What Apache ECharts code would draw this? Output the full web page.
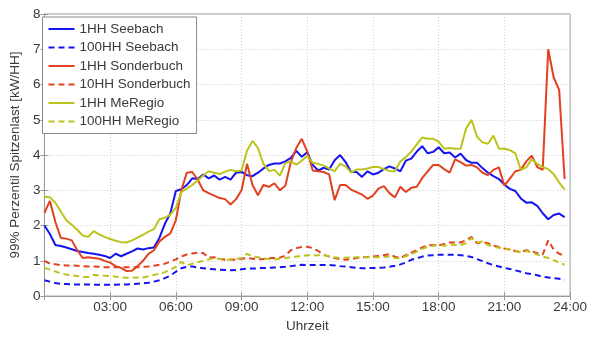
<!DOCTYPE html>
<html>
<head>
<meta charset="utf-8">
<script src="https://cdn.jsdelivr.net/npm/echarts@6/dist/echarts.min.js"></script>
<style>
  html, body { margin: 0; padding: 0; background: #fff; }
  #chart { width: 590px; height: 338px; }
</style>
</head>
<body>
<div id="chart"></div>
<script>
// 99th-percentile peak load per household over the day, 15-minute steps (00:00 .. 23:45)
const STEP_HOURS = 0.25;

const seebach1HH = [
  2.0, 1.76, 1.45, 1.42, 1.38, 1.33, 1.28, 1.25, 1.22, 1.2, 1.17, 1.14,
  1.08, 1.2, 1.13, 1.2, 1.27, 1.35, 1.32, 1.36, 1.38, 1.65, 2.05, 2.35,
  2.98, 3.03, 3.15, 3.34, 3.32, 3.45, 3.34, 3.42, 3.3, 3.38, 3.3, 3.5,
  3.52, 3.43, 3.4, 3.5, 3.62, 3.72, 3.76, 3.76, 3.82, 3.92, 4.12, 3.95,
  4.08, 3.72, 3.56, 3.64, 3.59, 3.85, 4.0, 3.8, 3.52, 3.52, 3.38, 3.54,
  3.45, 3.5, 3.6, 3.68, 3.62, 3.54, 3.84, 3.9, 4.1, 4.25, 4.05, 4.09,
  4.22, 4.05, 4.07, 3.93, 4.04, 3.86, 3.78, 3.78, 3.63, 3.5, 3.4, 3.32,
  3.16, 3.04, 2.98, 2.77, 2.65, 2.66, 2.56, 2.35, 2.18, 2.3, 2.34, 2.24
];
const seebach100HH = [
  0.45, 0.41, 0.37, 0.35, 0.34, 0.33, 0.33, 0.33, 0.33, 0.32, 0.32, 0.32,
  0.32, 0.32, 0.33, 0.33, 0.34, 0.35, 0.36, 0.38, 0.41, 0.45, 0.51, 0.58,
  0.69, 0.79, 0.83, 0.84, 0.81, 0.79, 0.77, 0.76, 0.75, 0.74, 0.73, 0.74,
  0.76, 0.78, 0.78, 0.79, 0.8, 0.8, 0.81, 0.82, 0.83, 0.85, 0.87, 0.89,
  0.88, 0.88, 0.88, 0.88, 0.88, 0.87, 0.85, 0.84, 0.82, 0.8, 0.79, 0.79,
  0.8, 0.8, 0.81, 0.83, 0.86, 0.9, 0.95, 1.03, 1.07, 1.12, 1.15, 1.16,
  1.17, 1.17, 1.17, 1.17, 1.16, 1.14, 1.11, 1.05, 0.99, 0.93, 0.88, 0.84,
  0.8, 0.77, 0.73, 0.69, 0.65, 0.62, 0.59, 0.55, 0.53, 0.51, 0.49, 0.46
];
const sonderbuch1HH = [
  2.36, 2.7, 2.1, 1.65, 1.63, 1.58, 1.3, 1.08, 1.1, 1.08, 1.06, 1.0,
  0.95, 0.85, 0.8, 0.71, 0.72, 0.85, 1.0, 1.2, 1.3, 1.55, 1.68, 1.78,
  2.15, 3.0, 3.5, 3.52, 3.3, 3.0, 2.92, 2.85, 2.78, 2.75, 2.6, 2.75,
  3.0, 3.75, 3.15, 2.86, 3.15, 3.1, 3.2, 3.0, 3.13, 3.8, 4.2, 4.46,
  4.1, 3.56, 3.54, 3.52, 3.45, 2.72, 3.15, 3.15, 3.02, 2.95, 2.88, 2.76,
  2.85, 3.05, 3.12, 2.92, 2.8, 3.1, 2.95, 3.07, 3.1, 3.35, 3.54, 3.72,
  3.72, 3.6, 3.5, 3.88, 3.8, 3.7, 3.72, 3.65, 3.5, 3.43, 3.58, 3.65,
  3.13, 3.33, 3.54, 3.58, 3.82, 3.98, 3.66, 3.58, 7.0, 6.2, 5.85, 3.32
];
const sonderbuch10HH = [
  1.0, 0.92, 0.9, 0.88, 0.87, 0.87, 0.86, 0.85, 0.84, 0.84, 0.83, 0.82,
  0.82, 0.82, 0.82, 0.82, 0.82, 0.82, 0.83, 0.84, 0.86, 0.89, 0.92, 0.98,
  1.04, 1.12, 1.18, 1.21, 1.23, 1.22, 1.09, 1.1, 1.06, 1.03, 1.04, 1.03,
  1.06, 1.08, 1.06, 1.04, 1.05, 1.07, 1.08, 1.09, 1.15, 1.3, 1.36, 1.39,
  1.4, 1.36, 1.28, 1.17, 1.12, 1.08, 1.05, 1.03, 1.05, 1.08, 1.1, 1.11,
  1.12, 1.14, 1.16, 1.19, 1.12, 1.08, 1.16, 1.23, 1.3, 1.38, 1.44, 1.45,
  1.44, 1.48, 1.52, 1.52, 1.52, 1.58, 1.68, 1.5, 1.53, 1.5, 1.43, 1.39,
  1.35, 1.32, 1.28, 1.25, 1.3, 1.27, 1.22, 1.18, 1.58, 1.32, 1.2, 1.14
];
const meregio1HH = [
  2.82, 2.8, 2.65, 2.4, 2.15, 2.02, 1.88, 1.72, 1.68, 1.84, 1.75, 1.68,
  1.62, 1.57, 1.53, 1.52, 1.58, 1.66, 1.74, 1.83, 1.9, 2.18, 2.22, 2.31,
  2.5, 2.95, 3.05, 3.15, 3.28, 3.42, 3.54, 3.5, 3.46, 3.53, 3.58, 3.54,
  3.56, 4.12, 4.4, 4.2, 3.75, 3.55, 3.58, 3.42, 3.77, 3.82, 3.73, 3.84,
  3.98, 3.78, 3.75, 3.7, 3.62, 3.54, 3.75, 3.68, 3.5, 3.59, 3.59, 3.62,
  3.66, 3.66, 3.6, 3.55, 3.54, 3.82, 3.94, 4.1, 4.3, 4.5, 4.46, 4.46,
  4.38, 4.18, 4.2, 4.18, 4.18, 4.75, 5.0, 4.52, 4.36, 4.32, 4.55, 4.18,
  4.18, 4.14, 4.05, 3.58, 3.65, 3.88, 3.75, 3.66, 3.6, 3.46, 3.22, 3.02
];
const meregio100HH = [
  0.8, 0.75, 0.7, 0.64, 0.61, 0.59, 0.57, 0.54, 0.54, 0.6, 0.59, 0.58,
  0.57, 0.55, 0.53, 0.52, 0.52, 0.53, 0.53, 0.56, 0.6, 0.63, 0.68, 0.75,
  0.83, 0.97, 0.87, 0.92, 0.96, 1.0, 1.04, 1.08, 1.05, 1.03, 1.04, 1.05,
  1.08, 1.2, 1.12, 1.1, 1.07, 1.05, 1.04, 1.06, 1.08, 1.1, 1.12, 1.13,
  1.16, 1.15, 1.16, 1.16, 1.13, 1.1, 1.08, 1.09, 1.1, 1.1, 1.1, 1.1,
  1.1, 1.1, 1.11, 1.12, 1.08, 1.07, 1.13, 1.19, 1.26, 1.34, 1.4, 1.43,
  1.45, 1.43, 1.46, 1.45, 1.45, 1.5, 1.65, 1.52, 1.55, 1.45, 1.4, 1.37,
  1.35, 1.32, 1.27, 1.24, 1.28, 1.24, 1.18, 1.12, 1.08, 1.02, 0.95, 0.89
];

const seriesNames = [
  '1HH Seebach', '100HH Seebach', '1HH Sonderbuch',
  '10HH Sonderbuch', '1HH MeRegio', '100HH MeRegio'
];
const seriesValues = [
  seebach1HH, seebach100HH, sonderbuch1HH,
  sonderbuch10HH, meregio1HH, meregio100HH
];
const seriesColors = ['#1414f0', '#1414f0', '#e2401f', '#e2401f', '#bcc31c', '#bcc31c'];
const seriesDashed = [false, true, false, true, false, true];

const yAxisTitle = '99% Perzentil Spitzenlast [kW/HH]';
const xAxisTitle = 'Uhrzeit';

const FONT = 'Liberation Sans, Arial, sans-serif';
const TEXT_COLOR = '#3a3a3a';
const FRAME = '#9a9a9a';

function hourLabel(v) {
  if (v === 0) return '';
  const h = Math.round(v);
  return (h < 10 ? '0' + h : '' + h) + ':00';
}

const series = seriesNames.map((name, k) => ({
  name: name,
  type: 'line',
  xAxisIndex: 0,
  yAxisIndex: 0,
  showSymbol: false,
  symbol: 'none',
  animation: false,
  data: seriesValues[k].map((v, i) => [i * STEP_HOURS, v]),
  lineStyle: {
    color: seriesColors[k],
    width: 2,
    type: seriesDashed[k] ? [6, 4] : 'solid'
  },
  itemStyle: { color: seriesColors[k] }
}));

const chart = echarts.init(document.getElementById('chart'), null, { renderer: 'canvas' });
chart.setOption({
  backgroundColor: '#ffffff',
  animation: false,
  grid: {
    left: 38, right: 17, top: 14, bottom: 32,
    show: true, borderColor: FRAME, borderWidth: 1, backgroundColor: '#fff'
  },
  legend: {
    orient: 'vertical',
    left: 42.5,
    top: 17,
    padding: [4, 6, 4, 5],
    itemGap: 2.5,
    itemWidth: 26,
    itemHeight: 14,
    backgroundColor: '#ffffff',
    borderColor: '#8a8a8a',
    borderWidth: 1,
    borderRadius: 0,
    data: seriesNames,
    // line samples only, no point markers
    itemStyle: { opacity: 0 },
    textStyle: { fontFamily: FONT, fontSize: 13.5, color: TEXT_COLOR, lineHeight: 16 }
  },
  xAxis: [
    {
      type: 'value', min: 0, max: 24, interval: 3,
      name: xAxisTitle, nameLocation: 'middle', nameGap: 21,
      nameTextStyle: { fontFamily: FONT, fontSize: 13.5, color: TEXT_COLOR },
      axisLine: { show: true, lineStyle: { color: FRAME } },
      axisTick: { show: true, inside: true, length: 4, lineStyle: { color: FRAME } },
      axisLabel: { formatter: hourLabel, fontFamily: FONT, fontSize: 13.5, color: TEXT_COLOR, margin: 4 },
      splitLine: { show: true, lineStyle: { color: '#cfcfcf', type: [1, 2], width: 1 } }
    },
    {
      type: 'value', min: 0, max: 24, interval: 3, position: 'top',
      axisLine: { show: true, lineStyle: { color: FRAME } },
      axisTick: { show: true, inside: true, length: 4, lineStyle: { color: FRAME } },
      axisLabel: { show: false },
      splitLine: { show: false }
    }
  ],
  yAxis: [
    {
      type: 'value', min: 0, max: 8, interval: 1,
      name: yAxisTitle, nameLocation: 'middle', nameGap: 18,
      nameTextStyle: { fontFamily: FONT, fontSize: 13.5, color: TEXT_COLOR },
      axisLine: { show: true, lineStyle: { color: FRAME } },
      axisTick: { show: true, inside: true, length: 4, lineStyle: { color: FRAME } },
      axisLabel: { fontFamily: FONT, fontSize: 13.5, color: TEXT_COLOR, margin: 4 },
      splitLine: { show: true, lineStyle: { color: '#cfcfcf', type: [1, 2], width: 1 } }
    },
    {
      type: 'value', min: 0, max: 8, interval: 1, position: 'right',
      axisLine: { show: true, lineStyle: { color: FRAME } },
      axisTick: { show: true, inside: true, length: 4, lineStyle: { color: FRAME } },
      axisLabel: { show: false },
      splitLine: { show: false }
    }
  ],
  series: series
});
</script>
</body>
</html>
